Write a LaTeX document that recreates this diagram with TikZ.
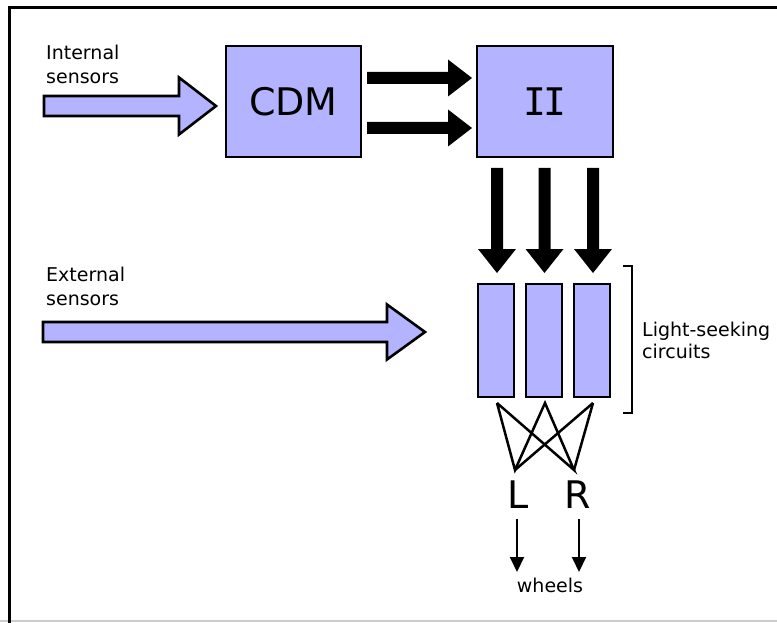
\documentclass[tikz,border=0pt]{standalone}
\usepackage{fontspec}
\setmainfont{DejaVu Sans}
\newfontfamily\monofnt{DejaVu Sans Mono}
\usetikzlibrary{arrows.meta}
\definecolor{boxfill}{RGB}{179,179,255}
\tikzset{
  blockbox/.style={draw=black, line width=2.6pt, fill=boxfill, inner sep=0pt},
  fatarrow/.style={fill=boxfill, draw=black, line width=2.6pt, line join=miter},
  solidarrow/.style={fill=black},
  txt/.style={font=\fontsize{19}{24}\selectfont, inner sep=0pt, align=left},
  bigletter/.style={font=\fontsize{38}{40}\selectfont, inner sep=0pt},
  wire/.style={line width=2.5pt, line join=miter},
  thinarrow/.style={line width=2pt, -{Triangle[length=15pt,width=14pt]}},
}
% horizontal block arrow: style, tail x, head-base x, tip x, centre y, shaft half, head half
\newcommand\hfat[7]{\path[#1] (#2,{#5-#6}) -- (#3,{#5-#6}) -- (#3,{#5-#7}) -- (#4,#5)
  -- (#3,{#5+#7}) -- (#3,{#5+#6}) -- (#2,{#5+#6}) -- cycle;}
% vertical block arrow: style, tail y, head-base y, tip y, centre x, shaft half, head half
\newcommand\vfat[7]{\path[#1] ({#5-#6},#2) -- ({#5-#6},#3) -- ({#5-#7},#3) -- (#5,#4)
  -- ({#5+#7},#3) -- ({#5+#6},#3) -- ({#5+#6},#2) -- cycle;}
\begin{document}
\begin{tikzpicture}[x=1pt, y=-1pt]
\useasboundingbox (0,0) rectangle (777,623);

% frame
\draw[black!20, line width=2pt] (0,621) -- (777,621);
\draw[line width=3pt] (9,623) -- (9,8) -- (777,8);

% main blocks
\node[blockbox, bigletter, minimum width=135pt, minimum height=111pt] (cdm) at (293.5,101.5) {CDM};
\node[blockbox, font=\monofnt\fontsize{38}{40}\selectfont, minimum width=136pt, minimum height=111pt] (ii) at (545,101.5) {I\kern-3pt I};

% light-seeking circuits
\node[blockbox, minimum width=36pt, minimum height=113pt] (c1) at (496,340.5) {};
\node[blockbox, minimum width=36pt, minimum height=113pt] (c2) at (544,340.5) {};
\node[blockbox, minimum width=36pt, minimum height=113pt] (c3) at (592,340.5) {};

% sensor inputs
\node[txt, anchor=north west] (intlab) at (46,44.6) {Internal\\sensors};
\node[txt, anchor=north west] (extlab) at (46,266.6) {External\\sensors};
\hfat{fatarrow}{44}{179}{216}{106}{10}{28.5}
\hfat{fatarrow}{43}{387}{425}{332}{10}{27.5}

% CDM to II
\hfat{solidarrow}{367}{448}{472}{78}{6}{18.5}
\hfat{solidarrow}{367}{448}{472}{128}{6}{18.5}

% II to circuits
\vfat{solidarrow}{168}{249}{273}{497}{6}{19}
\vfat{solidarrow}{168}{249}{273}{544.5}{6}{19}
\vfat{solidarrow}{168}{249}{273}{593}{6}{19}

% bracket and its caption
\draw[line width=2.5pt] (623,266) -- (632,266) -- (632,413) -- (623,413);
\node[txt, font=\fontsize{19}{22}\selectfont, anchor=north west] (lsc) at (642,321.6) {Light-seeking\\circuits};

% crossed wiring to motors
\coordinate (t1) at (497,403);
\coordinate (t2) at (545,403);
\coordinate (t3) at (593,403);
\coordinate (lp) at (515,470);
\coordinate (rp) at (574,470);
\draw[wire] (t1) -- (lp) -- (t2) -- (rp) -- (t1);
\draw[wire] (t3) -- (lp);
\draw[wire] (t3) -- (rp);

\node[bigletter] (L) at (518,495) {L};
\node[bigletter] (R) at (578,495) {R};
\node[txt, anchor=base] (wheels) at (550,592) {wheels};
\coordinate (wl) at (517,572);
\coordinate (wr) at (579,572);
\draw[thinarrow] (517,519) -- (wl);
\draw[thinarrow] (579,519) -- (wr);
\end{tikzpicture}
\end{document}
